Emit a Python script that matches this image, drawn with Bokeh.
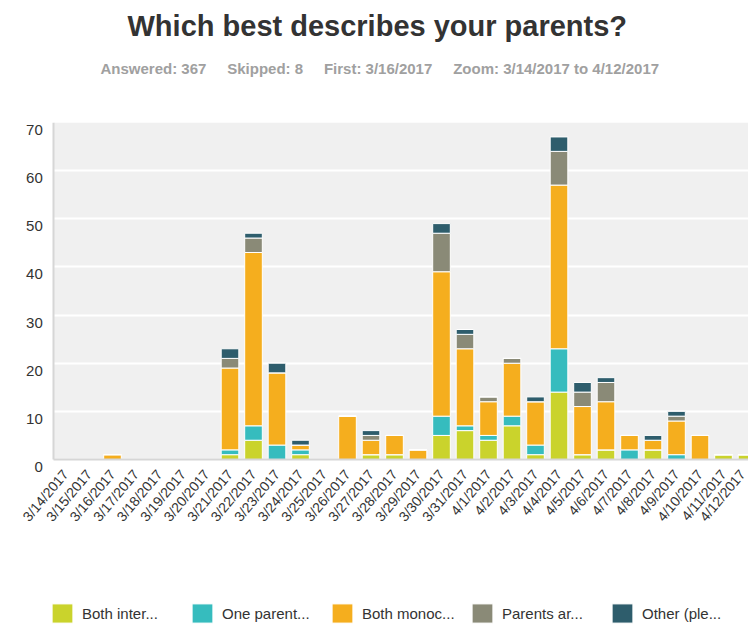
import math
from bokeh.plotting import figure
from bokeh.models import (Range1d, FixedTicker, Title, Legend, LegendItem,
                          ColumnDataSource, LinearAxis, BoxAnnotation)
from bokeh.embed import file_html
from bokeh.resources import INLINE

dates = ["3/14/2017", "3/15/2017", "3/16/2017", "3/17/2017", "3/18/2017", "3/19/2017",
         "3/20/2017", "3/21/2017", "3/22/2017", "3/23/2017", "3/24/2017", "3/25/2017",
         "3/26/2017", "3/27/2017", "3/28/2017", "3/29/2017", "3/30/2017", "3/31/2017",
         "4/1/2017", "4/2/2017", "4/3/2017", "4/4/2017", "4/5/2017", "4/6/2017",
         "4/7/2017", "4/8/2017", "4/9/2017", "4/10/2017", "4/11/2017", "4/12/2017"]

series_names = ["Both inter...", "One parent...", "Both monoc...", "Parents ar...", "Other (ple..."]
both_inter = [0, 0, 0, 0, 0, 0, 0, 1, 4, 0, 1, 0, 0, 1, 1, 0, 5, 6, 4, 7, 1, 14, 1, 2, 0, 2, 0, 0, 1, 1]
one_parent = [0, 0, 0, 0, 0, 0, 0, 1, 3, 3, 1, 0, 0, 0, 0, 0, 4, 1, 1, 2, 2, 9, 0, 0, 2, 0, 1, 0, 0, 0]
both_mono = [0, 0, 1, 0, 0, 0, 0, 17, 36, 15, 1, 0, 9, 3, 4, 2, 30, 16, 7, 11, 9, 34, 10, 10, 3, 2, 7, 5, 0, 0]
parents_ar = [0, 0, 0, 0, 0, 0, 0, 2, 3, 0, 0, 0, 0, 1, 0, 0, 8, 3, 1, 1, 0, 7, 3, 4, 0, 0, 1, 0, 0, 0]
other = [0, 0, 0, 0, 0, 0, 0, 2, 1, 2, 1, 0, 0, 1, 0, 0, 2, 1, 0, 0, 1, 3, 2, 1, 0, 1, 1, 0, 0, 0]
colors = ["#cad32c", "#36bcbe", "#f5ae1e", "#8a8a77", "#2e5d6c"]
y_ticks = [0, 10, 20, 30, 40, 50, 60, 70]
y_max = 70

title_text = "Which best describes your parents?"
subtitle_text = ("Answered: 367\u00a0\u00a0\u00a0\u00a0\u00a0Skipped: 8\u00a0\u00a0\u00a0\u00a0\u00a0"
                 "First: 3/16/2017\u00a0\u00a0\u00a0\u00a0\u00a0Zoom: 3/14/2017 to 4/12/2017")

keys = ["s0", "s1", "s2", "s3", "s4"]
source = ColumnDataSource(data=dict(
    x=list(range(len(dates))),
    s0=both_inter, s1=one_parent, s2=both_mono, s3=parents_ar, s4=other,
))

FONT = "Liberation Sans"

# frame covers the whole figure below y=122; the plot area (0..70, -0.5..29.5)
# sits inside it, rotated labels and legend below it
FRAME_H = 625 - 122
PLOT_H = 337
y_start = y_max - y_max * FRAME_H / PLOT_H
SLOT = 23.5                      # px per category
x_start = -0.5 - 53.25 / SLOT
x_end = x_start + 748 / SLOT
label_shift = 7.5 * y_max / PLOT_H   # tick labels sit slightly below their grid line

p = figure(width=748, height=625, output_backend="svg", toolbar_location=None,
           title_location=None,
           x_range=Range1d(x_start, x_end), y_range=Range1d(y_start, y_max),
           min_border_left=0, min_border_right=0, min_border_top=122, min_border_bottom=0,
           background_fill_color="white", border_fill_color="white",
           outline_line_color=None)
p.extra_y_ranges = {"lbl": Range1d(y_start + label_shift, y_max + label_shift)}

p.add_layout(BoxAnnotation(left=-0.5, bottom=0, top=y_max, fill_color="#f0f0f0", fill_alpha=1,
                           line_color=None, level="image"))

renderers = p.vbar_stack(keys, x="x", width=0.75, source=source, color=colors,
                         line_color="white", line_width=1)

# x axis drawn at y=0 inside the frame
xa = p.xaxis[0]
xa.fixed_location = 0
xa.bounds = (-0.5, 30)
xa.ticker = FixedTicker(ticks=list(range(len(dates))))
xa.major_label_overrides = {i: d for i, d in enumerate(dates)}
xa.major_label_orientation = math.radians(50)
xa.major_label_text_font = FONT
xa.major_label_text_font_size = "14px"
xa.major_label_text_color = "#333333"
xa.major_label_standoff = 12
xa.major_tick_out = 0
xa.major_tick_in = 0
xa.minor_tick_out = 0
xa.minor_tick_in = 0
xa.axis_line_color = "#d6d6d6"
xa.axis_line_width = 2

# y axis: the line (primary range)
ya = p.yaxis[0]
ya.fixed_location = -0.5
ya.bounds = (0, y_max)
ya.ticker = FixedTicker(ticks=y_ticks)
ya.major_label_text_color = None
ya.major_tick_out = 0
ya.major_tick_in = 0
ya.minor_tick_out = 0
ya.minor_tick_in = 0
ya.axis_line_color = "#d6d6d6"
ya.axis_line_width = 2

# y axis: the tick labels (shifted range)
yl = LinearAxis(y_range_name="lbl", fixed_location=-0.5, ticker=FixedTicker(ticks=y_ticks),
                axis_line_color=None, major_tick_out=0, major_tick_in=0,
                minor_tick_out=0, minor_tick_in=0,
                major_label_text_font=FONT, major_label_text_font_size="15px",
                major_label_text_color="#333333", major_label_standoff=11)
p.add_layout(yl, "left")

p.xgrid.grid_line_color = None
p.ygrid.grid_line_color = "white"
p.ygrid.grid_line_width = 2
p.ygrid.bounds = (0, y_max)


def spacer(h):
    return LinearAxis(ticker=FixedTicker(ticks=[14]), axis_line_color=None,
                      major_tick_out=h, major_tick_in=0, minor_tick_out=0, minor_tick_in=0,
                      major_tick_line_color=None, minor_tick_line_color=None,
                      major_label_text_color=None, major_label_standoff=0,
                      major_label_text_font_size="1px")


sub = Title(text=subtitle_text, align="left", offset=100, text_font_size="15px",
            text_font_style="bold", text_color="#a0a0a0", text_font=FONT, standoff=4)
main = Title(text=title_text, align="left", offset=127, text_font_size="29px",
             text_font_style="bold", text_color="#333333", text_font=FONT, standoff=0)
p.add_layout(spacer(44), "above")
p.add_layout(sub, "above")
p.add_layout(spacer(14), "above")
p.add_layout(main, "above")

legend = Legend(items=[LegendItem(label=n, renderers=[r]) for n, r in zip(series_names, renderers)],
                orientation="horizontal", location=(49, 0),
                glyph_width=26, glyph_height=24, label_standoff=7, spacing=7, label_width=100,
                padding=0, margin=0, border_line_color=None, background_fill_alpha=0,
                label_text_font=FONT, label_text_font_size="15px", label_text_color="#333333")
p.add_layout(legend, "center")

open("out.html", "w").write(file_html(p, INLINE))
